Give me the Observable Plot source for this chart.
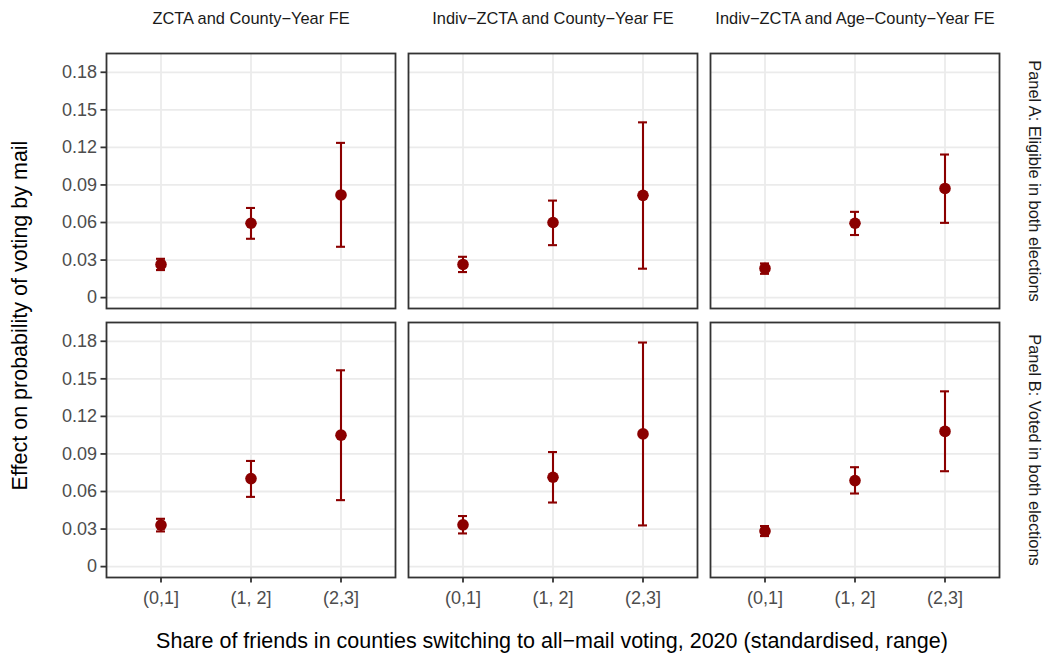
<!DOCTYPE html>
<html>
<head>
<meta charset="utf-8">
<script src="https://cdn.jsdelivr.net/npm/d3@7"></script>
<script src="https://cdn.jsdelivr.net/npm/@observablehq/plot@0.6"></script>
<style>
  html, body { margin: 0; padding: 0; background: #ffffff; }
  #chart { width: 1044px; height: 654px; }
</style>
</head>
<body>
<div id="chart"></div>
<script>
// Facet categories and tick labels
const models = ["ZCTA and County\u2212Year FE", "Indiv\u2212ZCTA and County\u2212Year FE", "Indiv\u2212ZCTA and Age\u2212County\u2212Year FE"];
const panels = ["Panel A: Eligible in both elections", "Panel B: Voted in both elections"];
const bins = ["(0,1]", "(1, 2]", "(2,3]"];
const yTicks = [0, 0.03, 0.06, 0.09, 0.12, 0.15, 0.18];
const xTitle = "Share of friends in counties switching to all\u2212mail voting, 2020 (standardised, range)";
const yTitle = "Effect on probability of voting by mail";

// Panel A estimates, per model (3 bins each)
const panelA_est = [[0.0265, 0.0594, 0.0820], [0.0265, 0.0600, 0.0817], [0.0233, 0.0594, 0.0872]];
const panelA_lo  = [[0.0220, 0.0470, 0.0406], [0.0204, 0.0419, 0.0231], [0.0190, 0.0500, 0.0597]];
const panelA_hi  = [[0.0310, 0.0716, 0.1236], [0.0326, 0.0775, 0.1400], [0.0273, 0.0685, 0.1143]];
// Panel B estimates
const panelB_est = [[0.0332, 0.0703, 0.1050], [0.0334, 0.0714, 0.1060], [0.0284, 0.0687, 0.1080]];
const panelB_lo  = [[0.0281, 0.0557, 0.0531], [0.0265, 0.0512, 0.0329], [0.0244, 0.0584, 0.0762]];
const panelB_hi  = [[0.0382, 0.0844, 0.1568], [0.0404, 0.0915, 0.1790], [0.0324, 0.0794, 0.1400]];

const rows = [];
[[panelA_est, panelA_lo, panelA_hi], [panelB_est, panelB_lo, panelB_hi]].forEach(([est, lo, hi], p) => {
  models.forEach((m, mi) => {
    bins.forEach((b, bi) => {
      rows.push({panel: panels[p], model: m, bin: b, est: est[mi][bi], lo: lo[mi][bi], hi: hi[mi][bi]});
    });
  });
});

const red = "#8B0000";
const font = "'Liberation Sans', Arial, Helvetica, sans-serif";

const chart = Plot.plot({
  width: 1044,
  height: 654,
  marginTop: 53,
  marginBottom: 76,
  marginLeft: 105,
  marginRight: 45,
  style: {fontFamily: font, background: "#ffffff", overflow: "visible"},
  fx: {domain: models, paddingInner: 0.0442, paddingOuter: 0, axis: null, label: null},
  fy: {domain: panels, paddingInner: 0.052, paddingOuter: 0, axis: null, label: null},
  x: {type: "band", domain: bins, paddingInner: 0.9, paddingOuter: 0.55, axis: null, label: null},
  y: {domain: [-0.0087, 0.195], axis: null, label: null},
  marks: [
    Plot.gridY(yTicks, {stroke: "#ebebeb", strokeOpacity: 1, strokeWidth: 1.8}),
    Plot.gridX(bins, {stroke: "#ebebeb", strokeOpacity: 1, strokeWidth: 1.8}),
    Plot.ruleX(rows, {fx: "model", fy: "panel", x: "bin", y1: "lo", y2: "hi", stroke: red, strokeWidth: 2.1}),
    Plot.tickY(rows, {fx: "model", fy: "panel", x: "bin", y: "lo", stroke: red, strokeWidth: 2.1}),
    Plot.tickY(rows, {fx: "model", fy: "panel", x: "bin", y: "hi", stroke: red, strokeWidth: 2.1}),
    Plot.dot(rows, {fx: "model", fy: "panel", x: "bin", y: "est", r: 5.8, fill: red, stroke: "none"}),
    Plot.frame({stroke: "#333333", strokeWidth: 1.8}),
    Plot.axisY(yTicks, {
      anchor: "left", facetAnchor: "left", tickSize: 5.5, tickPadding: 4,
      tickFormat: d => d === 0 ? "0" : d.toFixed(2),
      fontSize: 18, stroke: "#333333", fill: "#4d4d4d", strokeWidth: 1.8, label: null
    }),
    Plot.axisX(bins, {
      anchor: "bottom", facetAnchor: "bottom", tickSize: 5.5, tickPadding: 8,
      fontSize: 18, stroke: "#333333", fill: "#4d4d4d", strokeWidth: 1.8, label: null
    }),
    Plot.text(models, {fx: d => d, fy: () => panels[0], text: d => d, frameAnchor: "top", dy: -35,
      lineAnchor: "middle", fontSize: 16.4, fill: "#1a1a1a"}),
    Plot.text(panels, {fx: () => models[2], fy: d => d, text: d => d, frameAnchor: "right", dx: 35,
      lineAnchor: "middle", textAnchor: "middle", rotate: 90, fontSize: 16.4, fill: "#1a1a1a"})
  ]
});

document.getElementById("chart").appendChild(chart);

// Axis titles (outer, spanning all facets)
const svg = d3.select(chart.tagName.toLowerCase() === "svg" ? chart : chart.querySelector("svg"));
svg.append("text")
  .attr("x", (105 + 999) / 2)
  .attr("y", 648)
  .attr("text-anchor", "middle")
  .attr("font-family", font)
  .attr("font-size", 21.5)
  .attr("fill", "#000000")
  .text(xTitle);
svg.append("text")
  .attr("transform", `translate(27,${(53 + 578) / 2}) rotate(-90)`)
  .attr("text-anchor", "middle")
  .attr("font-family", font)
  .attr("font-size", 21.5)
  .attr("fill", "#000000")
  .text(yTitle);
</script>
</body>
</html>
